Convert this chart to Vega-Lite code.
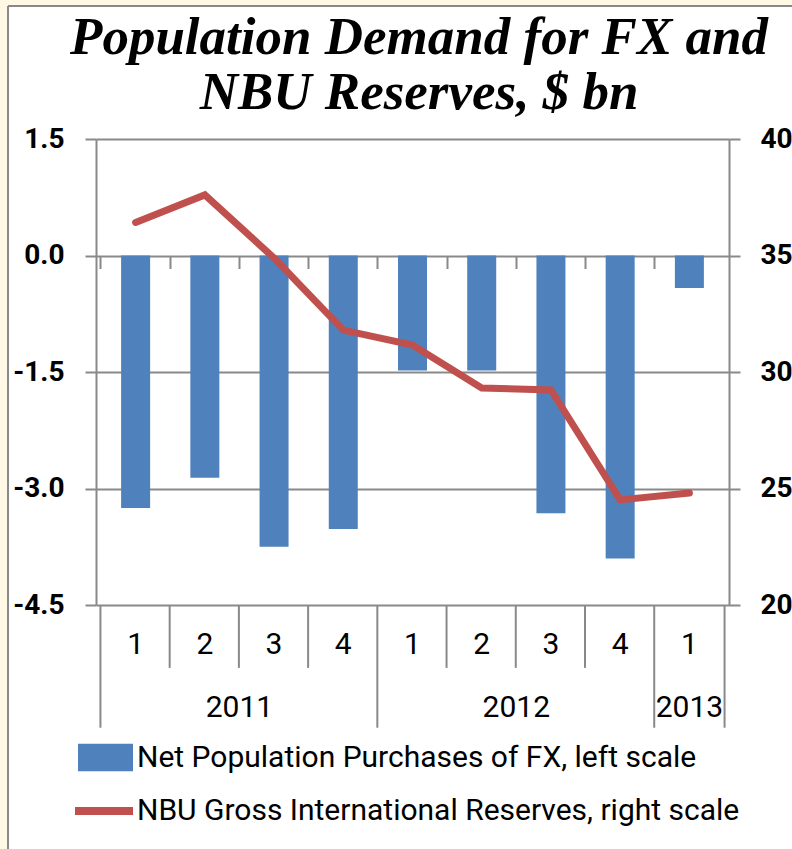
{
  "$schema": "https://vega.github.io/schema/vega-lite/v6.json",
  "width": 784,
  "height": 843,
  "autosize": {"type": "none"},
  "padding": {"left": 8, "top": 6, "right": 0, "bottom": 0},
  "background": "#FFF8E5",
  "view": {"fill": "white", "stroke": "#898989", "strokeWidth": 2, "strokeDash": [784, 1627, 843, 0]},
  "title": {
    "text": ["Population Demand for FX and", "NBU Reserves, $ bn"],
    "font": "Liberation Serif",
    "fontSize": 53,
    "fontStyle": "italic",
    "fontWeight": "bold",
    "color": "black",
    "anchor": "middle",
    "frame": "group",
    "baseline": "alphabetic",
    "lineHeight": 55,
    "offset": -156,
    "dx": 19
  },
  "data": {
    "values": [
      {"idx": 1, "year": "2011", "q": "1", "fx": -3.25, "res": 36.42},
      {"idx": 2, "year": "2011", "q": "2", "fx": -2.86, "res": 37.6},
      {"idx": 3, "year": "2011", "q": "3", "fx": -3.75, "res": 34.89},
      {"idx": 4, "year": "2011", "q": "4", "fx": -3.52, "res": 31.8},
      {"idx": 5, "year": "2012", "q": "1", "fx": -1.48, "res": 31.16},
      {"idx": 6, "year": "2012", "q": "2", "fx": -1.48, "res": 29.31},
      {"idx": 7, "year": "2012", "q": "3", "fx": -3.32, "res": 29.23},
      {"idx": 8, "year": "2012", "q": "4", "fx": -3.9, "res": 24.51},
      {"idx": 9, "year": "2013", "q": "1", "fx": -0.42, "res": 24.81}
    ]
  },
  "layer": [
    {
      "layer": [
        {
          "mark": {"type": "bar", "width": 29},
          "encoding": {
            "x": {
              "field": "idx", "type": "quantitative",
              "scale": {"domain": [0.5, 9.5], "range": [88, 721], "nice": false, "zero": false},
              "axis": {
                "orient": "bottom", "offset": -593.5, "values": [1, 2, 3, 4, 5, 6, 7, 8, 9],
                "labels": false, "domain": false, "grid": false, "ticks": true,
                "tickSize": 13, "tickOffset": -35.17, "tickColor": "#898989", "tickWidth": 2, "title": null
              }
            },
            "y": {
              "field": "fx", "type": "quantitative",
              "scale": {"domain": [-4.5, 1.5], "range": [599, 133], "nice": false},
              "axis": {
                "orient": "left", "offset": -88, "values": [-4.5, -3, -1.5, 0, 1.5],
                "labelExpr": "replace(format(datum.value, '.1f'), '\u2212', '-')",
                "title": null, "grid": true, "gridColor": "#898989", "gridWidth": 2,
                "domain": true, "domainColor": "#898989", "domainWidth": 2, "ticks": true,
                "tickColor": "#898989", "tickWidth": 2, "tickSize": 11,
                "labelFont": "Roboto", "labelFontSize": 28, "labelFontWeight": "bold",
                "labelColor": "black", "labelPadding": 21
              }
            },
            "fill": {
              "datum": "Net Population Purchases of FX, left scale", "type": "nominal",
              "scale": {"range": ["#4F81BD"]},
              "legend": {
                "orient": "none", "legendX": 70, "legendY": 724, "title": null, "padding": 0,
                "symbolType": "M-1,-0.5H1V0.5H-1Z", "symbolSize": 3025, "symbolStrokeWidth": 0,
                "labelFont": "Roboto", "labelFontSize": 30, "labelColor": "black",
                "labelLimit": 900, "labelOffset": 4
              }
            }
          }
        },
        {
          "transform": [{"filter": "datum.q != '1'"}],
          "mark": {"type": "rule", "xOffset": -35.17, "color": "#898989", "strokeWidth": 2},
          "encoding": {
            "x": {"field": "idx", "type": "quantitative"},
            "y": {"datum": -4.5, "type": "quantitative"},
            "y2": {"datum": -5.31}
          }
        },
        {
          "transform": [{"filter": "datum.q == '1'"}],
          "mark": {"type": "rule", "xOffset": -35.17, "color": "#898989", "strokeWidth": 2},
          "encoding": {
            "x": {"field": "idx", "type": "quantitative"},
            "y": {"datum": -4.5, "type": "quantitative"},
            "y2": {"datum": -6.08}
          }
        },
        {
          "transform": [{"aggregate": [{"op": "max", "field": "idx", "as": "last"}]}],
          "mark": {"type": "rule", "xOffset": 35.17, "color": "#898989", "strokeWidth": 2},
          "encoding": {
            "x": {"field": "last", "type": "quantitative"},
            "y": {"datum": -4.5, "type": "quantitative"},
            "y2": {"datum": -6.08}
          }
        },
        {
          "mark": {"type": "text", "font": "Roboto", "fontSize": 30, "color": "black", "baseline": "middle", "align": "center"},
          "encoding": {
            "x": {"field": "idx", "type": "quantitative"},
            "y": {"datum": -5.01, "type": "quantitative"},
            "text": {"field": "q"}
          }
        },
        {
          "transform": [{"aggregate": [{"op": "mean", "field": "idx", "as": "mid"}], "groupby": ["year"]}],
          "mark": {"type": "text", "font": "Roboto", "fontSize": 30, "color": "black", "baseline": "middle", "align": "center"},
          "encoding": {
            "x": {"field": "mid", "type": "quantitative"},
            "y": {"datum": -5.83, "type": "quantitative"},
            "text": {"field": "year"}
          }
        }
      ]
    },
    {
      "mark": {"type": "line", "strokeWidth": 7, "strokeCap": "round"},
      "encoding": {
        "x": {"field": "idx", "type": "quantitative"},
        "y": {
          "field": "res", "type": "quantitative",
          "scale": {"domain": [20, 40], "range": [599, 133], "nice": false, "zero": false},
          "axis": {
            "orient": "right", "offset": -63, "values": [20, 25, 30, 35, 40], "format": "d",
            "title": null, "grid": false,
            "domainColor": "#898989", "domainWidth": 2, "tickColor": "#898989", "tickWidth": 2, "tickSize": 11,
            "labelFont": "Roboto", "labelFontSize": 28, "labelFontWeight": "bold",
            "labelColor": "black", "labelPadding": 20
          }
        },
        "stroke": {
          "datum": "NBU Gross International Reserves, right scale", "type": "nominal",
          "scale": {"range": ["#C0504D"]},
          "legend": {
            "orient": "none", "legendX": 63, "legendY": 772, "title": null, "padding": 0,
            "symbolType": "stroke", "symbolSize": 3364, "symbolStrokeWidth": 8,
            "labelFont": "Roboto", "labelFontSize": 30, "labelColor": "black",
            "labelLimit": 900, "labelOffset": 0
          }
        }
      }
    }
  ],
  "resolve": {"scale": {"y": "independent"}}
}
